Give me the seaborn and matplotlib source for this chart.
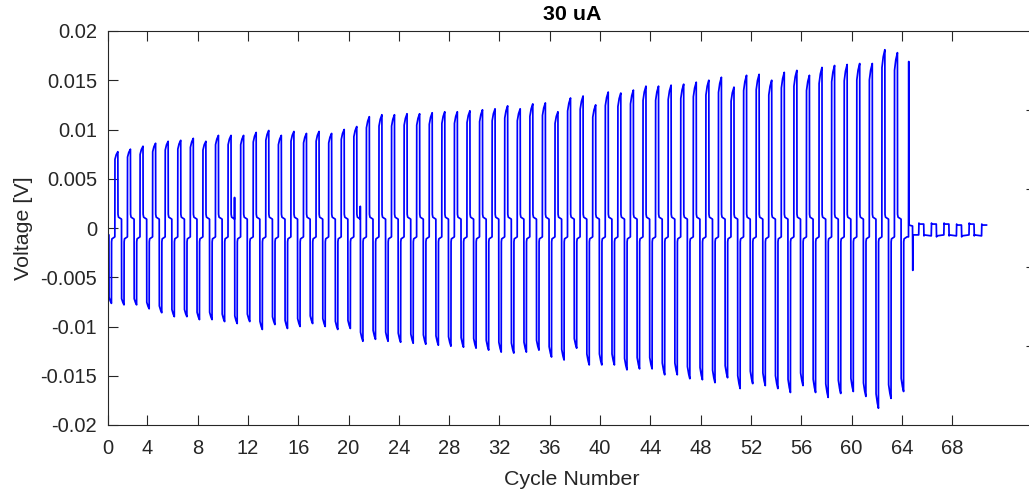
import numpy as np
import pandas as pd
import matplotlib
matplotlib.use("Agg")
import matplotlib.pyplot as plt
import seaborn as sns

# ---------------- data ----------------
title = "30 uA"
x_label = "Cycle Number"
y_label = "Voltage [V]"
x_tick_labels = [0, 4, 8, 12, 16, 20, 24, 28, 32, 36, 40, 44, 48, 52, 56, 60, 64, 68]
y_ticks = [-0.02, -0.015, -0.01, -0.005, 0, 0.005, 0.01, 0.015, 0.02]
y_tick_labels = ["-0.02", "-0.015", "-0.01", "-0.005", "0", "0.005", "0.01", "0.015", "0.02"]

# peak of the charge (positive) pulse of cycles 1..64  [V]
pos_peak = [0.00775, 0.0080, 0.0083, 0.0086, 0.0088, 0.0089, 0.0091, 0.0088,
            0.0094, 0.0094, 0.0094, 0.0097, 0.0099, 0.0094, 0.0098, 0.0096,
            0.0098, 0.0096, 0.0100, 0.0103, 0.0113, 0.0115, 0.0115, 0.0116,
            0.0116, 0.0117, 0.0118, 0.0118, 0.0119, 0.0120, 0.0121, 0.0124,
            0.0121, 0.0126, 0.0127, 0.0118, 0.0132, 0.0134, 0.0125, 0.0138,
            0.0137, 0.0140, 0.0144, 0.0144, 0.0145, 0.0146, 0.0148, 0.0150,
            0.0153, 0.0143, 0.0155, 0.0156, 0.0150, 0.0158, 0.0160, 0.0155,
            0.0163, 0.0165, 0.0166, 0.0167, 0.0167, 0.0181, 0.0178, 0.0169]
# peak of the discharge (negative) pulse of cycles 1..64  [V]
neg_peak = [-0.00765, -0.0078, -0.0078, -0.0082, -0.0086, -0.0090, -0.0090, -0.0093,
            -0.0093, -0.0095, -0.0097, -0.0095, -0.0103, -0.0098, -0.0102, -0.0100,
            -0.0097, -0.0100, -0.0103, -0.0102, -0.0115, -0.0113, -0.0115, -0.0116,
            -0.0117, -0.0118, -0.0119, -0.0120, -0.0121, -0.0122, -0.0124, -0.0126,
            -0.0127, -0.0126, -0.0124, -0.0131, -0.0134, -0.0122, -0.0139, -0.0139,
            -0.0139, -0.0144, -0.0143, -0.0143, -0.0149, -0.0149, -0.0153, -0.0154,
            -0.0157, -0.0152, -0.0163, -0.0158, -0.0160, -0.0163, -0.0167, -0.0160,
            -0.0167, -0.0172, -0.0168, -0.0166, -0.0171, -0.0183, -0.0173, -0.0166]
rest_high = 0.0011       # relaxation level after charge
rest_low = -0.0011       # relaxation level after discharge
start_level = -0.0007
glitch_cycle = [10.93, 20.93]
glitch_value = [0.0031, 0.0022]
tail_settle = 0.0003
tail_dip = -0.0043
tail_high = [0.0004, 0.0004, 0.0004, 0.0003, 0.0004, 0.0003]   # cycles 65..70
tail_low = [-0.0007, -0.0008, -0.0007, -0.0008, -0.0007, -0.0008]

# ---------------- build the trace from the per-cycle values ----------------
xs, ys = [], []


def add(x, y):
    xs.append(x)
    ys.append(y)


x_start = 0.866
add(0.88, start_level)
add(0.94, start_level)
n_cyc = len(pos_peak)
for i in range(n_cyc):
    n = i + 1
    p, q = pos_peak[i], neg_peak[i]
    add(n - 0.05, 0.92 * q)
    add(n + 0.05, 0.97 * q)
    add(n + 0.14, q)
    add(n + 0.15, rest_low - 0.0003)
    add(n + 0.18, rest_low)
    add(n + 0.41, rest_low + 0.0002)
    if n < n_cyc:
        add(n + 0.42, 0.9 * p)
        add(n + 0.52, 0.96 * p)
        add(n + 0.65, p)
        add(n + 0.66, rest_high + 0.0003)
        add(n + 0.70, rest_high)
        add(n + 0.94, rest_high - 0.0002)
    else:
        add(n + 0.53, rest_low + 0.0002)
        add(n + 0.55, p)
        add(n + 0.57, tail_settle)
        add(n + 0.85, tail_settle - 0.0001)
        add(n + 0.87, tail_dip)
        add(n + 0.89, tail_low[0])

for j, (hi, lo) in enumerate(zip(tail_high, tail_low)):
    m = n_cyc + 1 + j
    add(m + 0.34, lo)
    add(m + 0.36, hi + 0.0001)
    add(m + 0.38, hi)
    if j == len(tail_high) - 1:
        add(m + 0.75, hi)
        break
    add(m + 0.74, hi)
    add(m + 0.76, lo - 0.0001)
    add(m + 0.78, lo)

xs = np.array(xs)
ys = np.array(ys)
for g, v in zip(glitch_cycle, glitch_value):
    base = np.interp(g, xs, ys)
    extra_x = np.array([g - 0.004, g, g + 0.004])
    extra_y = np.array([base, v, base])
    xs = np.concatenate([xs, extra_x])
    ys = np.concatenate([ys, extra_y])
order = np.argsort(xs, kind="stable")
df = pd.DataFrame({"cycle": xs[order], "voltage": ys[order]})

# ---------------- draw ----------------
sns.set_style("white")
plt.rcParams["font.family"] = ["Liberation Sans", "DejaVu Sans"]
dark = "#262626"

fig = plt.figure(figsize=(10.29, 4.93), dpi=100)
ax = fig.add_axes([108 / 1029, 68 / 493, 928 / 1029, 394 / 493])
sns.lineplot(data=df, x="cycle", y="voltage", ax=ax, sort=False,
             estimator=None, color="#0000ff", linewidth=1.25)

ax.set_xlim(x_start, 74.67)
ax.set_ylim(-0.02, 0.02)
ax.set_xticks([x_start] + x_tick_labels[1:])
ax.set_xticklabels([str(v) for v in x_tick_labels])
ax.set_yticks(y_ticks)
ax.set_yticklabels(y_tick_labels)
ax.tick_params(axis="both", direction="in", length=7, width=0.8, color=dark,
               labelcolor=dark, labelsize=14.5, top=True, bottom=True, left=True, right=False)
ax.tick_params(axis="y", pad=8)
ax.tick_params(axis="x", pad=10)
for s in ax.spines.values():
    s.set_color(dark)
    s.set_linewidth(0.8)
ax.set_xlabel(x_label, fontsize=15.4, color=dark, labelpad=8.5)
ax.set_ylabel(y_label, fontsize=15.4, color=dark, labelpad=5)
ax.set_title(title, fontsize=15.4, fontweight="bold", color="black", pad=8)

ax2 = ax.twinx()
ax2.set_ylim(0, 1)
ax2.set_yticks([0.2, 0.4, 0.6, 0.8])
ax2.tick_params(axis="y", direction="in", length=7, width=0.8, color=dark,
                right=True, labelright=False, left=False)
for s in ax2.spines.values():
    s.set_visible(False)

fig.savefig("out.png", dpi=100)
